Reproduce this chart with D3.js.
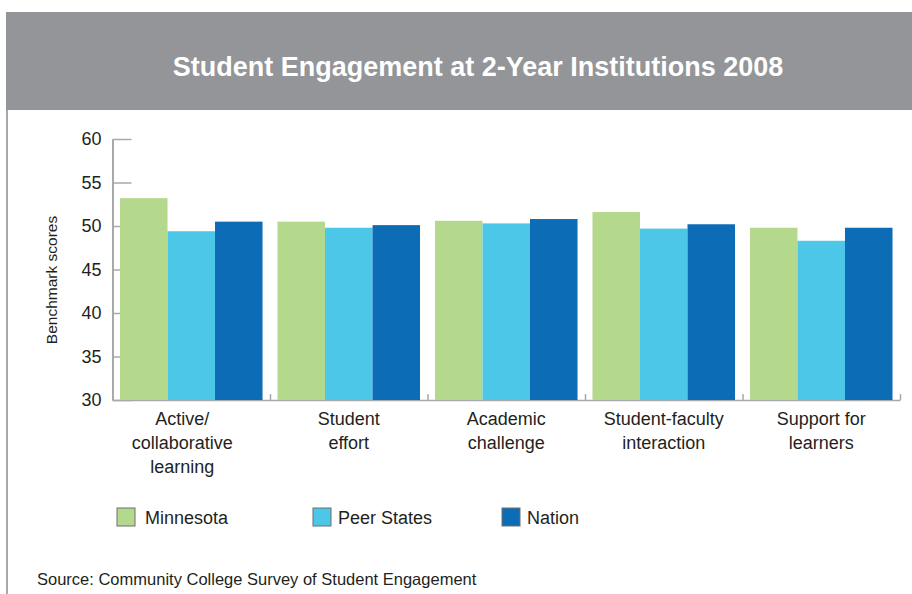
<!DOCTYPE html>
<html>
<head>
<meta charset="utf-8">
<script src="https://cdn.jsdelivr.net/npm/d3@7"></script>
<style>
  body { margin: 0; background: #fff; }
  svg { display: block; font-family: "Liberation Sans", Arial, sans-serif; }
  .axis path, .axis line { stroke: #a7a9ac; }
  .axis text { fill: #231f20; }
</style>
</head>
<body>
<div id="chart"></div>
<script>
// categories, one array of lines per label
var categories = ["Active/ collaborative learning", "Student effort", "Academic challenge",
                  "Student-faculty interaction", "Support for learners"];
var categoryLines = [["Active/", "collaborative", "learning"], ["Student", "effort"],
                     ["Academic", "challenge"], ["Student-faculty", "interaction"],
                     ["Support for", "learners"]];
var seriesNames = ["Minnesota", "Peer States", "Nation"];
var minnesota = [53.2, 50.5, 50.6, 51.6, 49.8];
var peerStates = [49.4, 49.8, 50.3, 49.7, 48.3];
var nation = [50.5, 50.1, 50.8, 50.2, 49.8];
var yTicks = [30, 35, 40, 45, 50, 55, 60];
var colors = ["#b4d88c", "#4cc7e8", "#0c6cb5"];

var width = 912, height = 594;
var plot = {left: 112.5, right: 900, top: 139, bottom: 400};
var narrow = "'Liberation Sans Narrow', 'Liberation Sans', sans-serif";

var svg = d3.select("#chart").append("svg")
    .attr("width", width)
    .attr("height", height);

// header band and left frame line
svg.append("rect")
    .attr("x", 6).attr("y", 12)
    .attr("width", width - 6).attr("height", 98)
    .attr("fill", "#939598");
svg.append("line")
    .attr("x1", 7).attr("y1", 110)
    .attr("x2", 7).attr("y2", height)
    .attr("stroke", "#a7a9ac")
    .attr("stroke-width", 2);
svg.append("text")
    .attr("x", 478).attr("y", 76)
    .attr("text-anchor", "middle")
    .attr("fill", "#fff")
    .style("font-family", narrow)
    .style("font-weight", "bold")
    .style("font-size", "27px")
    .text("Student Engagement at 2-Year Institutions 2008");

var y = d3.scaleLinear()
    .domain([30, 60])
    .range([plot.bottom, plot.top]);

var x0 = d3.scaleBand()
    .domain(categories)
    .range([plot.left, plot.right])
    .paddingInner(0.095)
    .paddingOuter(0.0476);

var x1 = d3.scaleBand()
    .domain(seriesNames)
    .range([0, x0.bandwidth()]);

// y axis with inward ticks
var yAxis = svg.append("g")
    .attr("class", "axis")
    .attr("transform", "translate(" + plot.left + ",0)")
    .call(d3.axisLeft(y).tickValues(yTicks).tickSizeInner(-19).tickSizeOuter(0).tickPadding(11));
yAxis.select(".domain").attr("stroke-width", 2);
yAxis.selectAll(".tick line").attr("stroke-width", 1.5);
yAxis.selectAll("text")
    .style("font-family", narrow)
    .style("font-size", "18px");

// x axis: small ticks between groups
var xb = d3.scaleLinear().domain([0, categories.length]).range([plot.left, plot.right]);
var xAxis = svg.append("g")
    .attr("class", "axis")
    .attr("transform", "translate(0," + plot.bottom + ")")
    .call(d3.axisBottom(xb).tickValues(d3.range(1, categories.length + 1))
        .tickSize(-6).tickSizeOuter(0).tickFormat(""));
xAxis.select(".domain").attr("stroke-width", 1.5);
xAxis.selectAll(".tick line").attr("stroke-width", 1.5);

svg.append("text")
    .attr("transform", "translate(57,280) rotate(-90)")
    .attr("text-anchor", "middle")
    .attr("fill", "#231f20")
    .style("font-family", narrow)
    .style("font-size", "15.5px")
    .text("Benchmark scores");

// bars
var rows = categories.map(function(c, i) {
    return {cat: c, values: [minnesota[i], peerStates[i], nation[i]]};
});

svg.append("g")
    .selectAll("g")
    .data(rows)
    .enter()
    .append("g")
    .attr("transform", function(d) { return "translate(" + x0(d.cat) + ",0)"; })
    .selectAll("rect")
    .data(function(d) {
        return d.values.map(function(v, j) { return {name: seriesNames[j], value: v, color: colors[j]}; });
    })
    .enter()
    .append("rect")
    .attr("x", function(d) { return x1(d.name); })
    .attr("y", function(d) { return y(d.value); })
    .attr("width", x1.bandwidth())
    .attr("height", function(d) { return y(30) - y(d.value); })
    .attr("fill", function(d) { return d.color; });

// category labels (first one sits a bit left of its group in the original)
svg.append("g")
    .selectAll("text")
    .data(categories)
    .enter()
    .append("text")
    .attr("text-anchor", "middle")
    .attr("fill", "#231f20")
    .style("font-size", "18px")
    .each(function(d, i) {
        var t = d3.select(this);
        var cx = x0(d) + x0.bandwidth() / 2 - (i == 0 ? 9 : 0);
        categoryLines[i].forEach(function(line, k) {
            t.append("tspan")
                .attr("x", cx)
                .attr("y", 425 + k * 24)
                .text(line);
        });
    });

// legend
var legendX = [117, 313, 502];
var legend = svg.append("g")
    .selectAll("g")
    .data(seriesNames)
    .enter()
    .append("g")
    .attr("transform", function(d, i) { return "translate(" + legendX[i] + ",508)"; });
legend.append("rect")
    .attr("width", 18).attr("height", 18)
    .attr("fill", function(d, i) { return colors[i]; })
    .attr("stroke", "#6d6e71")
    .attr("stroke-width", 1);
legend.append("text")
    .attr("x", function(d, i) { return i == 0 ? 28 : 25; })
    .attr("y", 16)
    .attr("fill", "#231f20")
    .style("font-size", "18px")
    .text(function(d) { return d; });

svg.append("text")
    .attr("x", 37).attr("y", 585)
    .attr("fill", "#231f20")
    .style("font-size", "16.5px")
    .text("Source: Community College Survey of Student Engagement");
</script>
</body>
</html>
